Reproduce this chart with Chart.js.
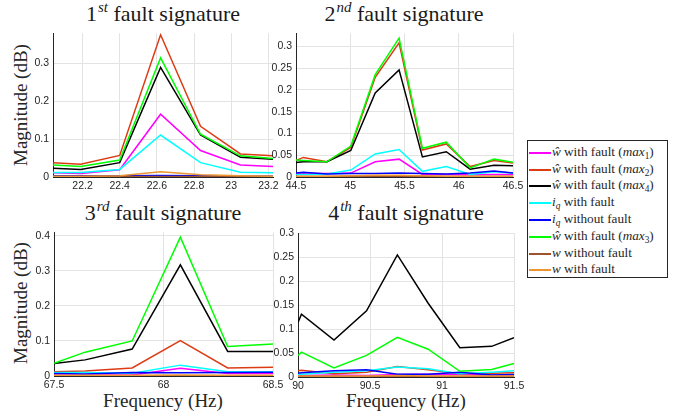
<!DOCTYPE html>
<html><head><meta charset="utf-8">
<script src="https://cdn.jsdelivr.net/npm/chart.js@4.4.0/dist/chart.umd.min.js"></script>
<style>
html,body{margin:0;padding:0;background:#fff;}
body{width:681px;height:418px;overflow:hidden;position:relative;font-family:"Liberation Serif",serif;color:#262626;}
canvas{position:absolute;}
.title{position:absolute;font-size:22px;line-height:1;white-space:nowrap;transform:translateX(-50%);color:#1a1a1a;}
.title .sup{font-style:italic;font-size:15px;position:relative;top:-9px;margin-left:1px;}
.xlab{position:absolute;font-size:19px;line-height:1;white-space:nowrap;transform:translateX(-50%);}
.ylab{position:absolute;font-size:19px;line-height:1;white-space:nowrap;transform:translate(-50%,-50%) rotate(-90deg);}
#legend{position:absolute;left:527px;top:140px;width:141px;height:138px;border:1px solid #262626;box-sizing:border-box;background:#fff;}
.lrow{position:absolute;left:0;height:16px;width:139px;font-size:13.2px;line-height:16px;white-space:nowrap;}
.lrow .ln{position:absolute;left:1px;top:8px;width:22px;height:2px;}
.lrow .tx{position:absolute;left:24px;top:0;}
.lrow sub{font-size:9.3px;vertical-align:-3px;line-height:0;}
</style>
</head><body>

<div class="title" style="left:163px;top:3px">1<span class="sup">st</span> fault signature</div>
<div class="title" style="left:404px;top:3px">2<span class="sup">nd</span> fault signature</div>
<div class="title" style="left:163px;top:202px">3<span class="sup">rd</span> fault signature</div>
<div class="title" style="left:406px;top:202px">4<span class="sup">th</span> fault signature</div>
<div class="ylab" style="left:20px;top:105px">Magnitude (dB)</div>
<div class="ylab" style="left:20px;top:303px">Magnitude (dB)</div>
<div class="xlab" style="left:163px;top:391px">Frequency (Hz)</div>
<div class="xlab" style="left:406px;top:391px">Frequency (Hz)</div>

<canvas id="c1"></canvas>
<canvas id="c2"></canvas>
<canvas id="c3"></canvas>
<canvas id="c4"></canvas>
<div id="legend"></div>

<script>
// ---- series labels and colours (legend order = plot order) ----
const seriesLabels = [
  '<i>ŵ</i> with fault (<i>max</i><sub>1</sub>)',
  '<i>ŵ</i> with fault (<i>max</i><sub>2</sub>)',
  '<i>ŵ</i> with fault (<i>max</i><sub>4</sub>)',
  '<i>i</i><sub><i>q</i></sub> with fault',
  '<i>i</i><sub><i>q</i></sub> without fault',
  '<i>ŵ</i> with fault (<i>max</i><sub>3</sub>)',
  '<i>w</i> without fault',
  '<i>w</i> with fault'
];
const seriesColors = ['#FF00FF','#DC3C14','#000000','#00FFFF','#0000FF','#00FF00','#A0522D','#EB9632'];

// ---- 1st fault signature ----
const f1       = [22.041, 22.19, 22.40, 22.62, 22.835, 23.05, 23.225];
const f1_max1  = [0.011, 0.009, 0.019, 0.166, 0.070, 0.032, 0.028];
const f1_max2  = [0.038, 0.034, 0.057, 0.376, 0.134, 0.061, 0.056];
const f1_max4  = [0.023, 0.020, 0.038, 0.290, 0.111, 0.052, 0.047];
const f1_iqF   = [0.012, 0.012, 0.020, 0.111, 0.038, 0.0125, 0.011];
const f1_iqNF  = [0.003, 0.003, 0.003, 0.004, 0.003, 0.002, 0.002];
const f1_max3  = [0.032, 0.028, 0.045, 0.315, 0.113, 0.056, 0.049];
const f1_wNF   = [0.001, 0.001, 0.001, 0.001, 0.001, 0.001, 0.001];
const f1_wF    = [0.002, 0.002, 0.003, 0.014, 0.006, 0.003, 0.002];
const xTicks1  = [22.2, 22.4, 22.6, 22.8, 23, 23.2];
const yTicks1  = [0, 0.1, 0.2, 0.3];

// ---- 2nd fault signature ----
const f2       = [44.5, 44.567, 44.785, 45.005, 45.23, 45.45, 45.665, 45.885, 46.105, 46.325, 46.5];
const f2_max1  = [0.007, 0.008, 0.008, 0.009, 0.035, 0.041, 0.006, 0.006, 0.005, 0.006, 0.006];
const f2_max2  = [0.038, 0.045, 0.035, 0.068, 0.229, 0.308, 0.062, 0.076, 0.024, 0.038, 0.032];
const f2_max4  = [0.033, 0.035, 0.035, 0.061, 0.193, 0.246, 0.046, 0.058, 0.018, 0.027, 0.026];
const f2_iqF   = [0.006, 0.006, 0.007, 0.016, 0.053, 0.063, 0.013, 0.024, 0.006, 0.012, 0.009];
const f2_iqNF  = [0.009, 0.011, 0.007, 0.008, 0.008, 0.009, 0.008, 0.007, 0.009, 0.014, 0.009];
const f2_max3  = [0.039, 0.038, 0.035, 0.071, 0.235, 0.319, 0.066, 0.080, 0.021, 0.041, 0.034];
const f2_wNF   = [0.001, 0.001, 0.001, 0.001, 0.001, 0.001, 0.001, 0.001, 0.001, 0.001, 0.001];
const f2_wF    = [0.002, 0.002, 0.002, 0.003, 0.004, 0.004, 0.003, 0.002, 0.002, 0.002, 0.002];
const xTicks2  = [44.5, 45, 45.5, 46, 46.5];
const yTicks2  = [0, 0.05, 0.1, 0.15, 0.2, 0.25, 0.3];

// ---- 3rd fault signature ----
const f3       = [67.5, 67.642, 67.857, 68.077, 68.293, 68.5];
const f3_max1  = [0.003, 0.003, 0.003, 0.022, 0.007, 0.007];
const f3_max2  = [0.012, 0.014, 0.023, 0.101, 0.023, 0.025];
const f3_max4  = [0.036, 0.046, 0.077, 0.317, 0.070, 0.070];
const f3_iqF   = [0.010, 0.010, 0.008, 0.031, 0.012, 0.012];
const f3_iqNF  = [0.007, 0.006, 0.010, 0.009, 0.010, 0.011];
const f3_max3  = [0.036, 0.068, 0.100, 0.396, 0.084, 0.091];
const f3_wNF   = [0.001, 0.001, 0.001, 0.001, 0.001, 0.001];
const f3_wF    = [0.002, 0.002, 0.002, 0.003, 0.002, 0.002];
const xTicks3  = [67.5, 68, 68.5];
const yTicks3  = [0, 0.1, 0.2, 0.3, 0.4];

// ---- 4th fault signature ----
const f4       = [90, 90.024, 90.25, 90.476, 90.69, 90.904, 91.124, 91.345, 91.5];
const f4_max1  = [0.003, 0.003, 0.004, 0.003, 0.005, 0.006, 0.005, 0.004, 0.004];
const f4_max2  = [0.013, 0.014, 0.007, 0.010, 0.022, 0.015, 0.007, 0.008, 0.009];
const f4_max4  = [0.114, 0.131, 0.077, 0.138, 0.255, 0.154, 0.061, 0.064, 0.082];
const f4_iqF   = [0.006, 0.006, 0.010, 0.013, 0.021, 0.017, 0.007, 0.010, 0.013];
const f4_iqNF  = [0.008, 0.009, 0.013, 0.015, 0.006, 0.006, 0.010, 0.004, 0.005];
const f4_max3  = [0.045, 0.052, 0.019, 0.045, 0.083, 0.058, 0.012, 0.0155, 0.028];
const f4_wNF   = [0.001, 0.001, 0.001, 0.001, 0.001, 0.001, 0.001, 0.001, 0.001];
const f4_wF    = [0.002, 0.002, 0.002, 0.002, 0.003, 0.002, 0.002, 0.002, 0.002];
const xTicks4  = [90, 90.5, 91, 91.5];
const yTicks4  = [0, 0.05, 0.1, 0.15, 0.2, 0.25, 0.3];

// ---- legend ----
const leg = document.getElementById('legend');
seriesLabels.forEach((lab, i) => {
  const r = document.createElement('div');
  r.className = 'lrow';
  r.style.top = (2.7 + i * 16.8) + 'px';
  r.innerHTML = '<span class="ln" style="background:' + seriesColors[i] + '"></span><span class="tx">' + lab + '</span>';
  leg.appendChild(r);
});

// ---- charts ----
const PADL = 45, PADT = 10, PADR = 15, PADB = 22;
function fmt(v){ return String(Math.round(v * 1000) / 1000); }

function makeChart(id, area, freqs, series, xr, yr, xt, yt) {
  const cv = document.getElementById(id);
  const w = area.w + PADL + PADR, h = area.h + PADT + PADB;
  cv.width = w; cv.height = h;
  cv.style.width = w + 'px'; cv.style.height = h + 'px';
  cv.style.left = (area.l - PADL) + 'px'; cv.style.top = (area.t - PADT) + 'px';
  const datasets = series.map((vals, i) => ({
    label: 's' + i,
    data: vals.map((v, k) => ({x: freqs[k], y: v})),
    borderColor: seriesColors[i],
    backgroundColor: seriesColors[i],
    borderWidth: 1.5,
    pointRadius: 0,
    tension: 0,
    fill: false,
    order: series.length - i
  }));
  const tickFont = {family: '"Liberation Sans", Arial, sans-serif', size: 10.5};
  new Chart(cv, {
    type: 'line',
    data: {datasets},
    options: {
      responsive: false, animation: false, devicePixelRatio: 1,
      layout: {padding: {left: 0, top: PADT, right: PADR, bottom: 0}},
      plugins: {legend: {display: false}, tooltip: {enabled: false}, title: {display: false}},
      scales: {
        x: {
          type: 'linear', min: xr[0], max: xr[1],
          afterBuildTicks: s => { s.ticks = xt.map(v => ({value: v})); },
          afterFit: s => { s.height = PADB; },
          ticks: {callback: v => fmt(v), color: '#262626', font: tickFont, padding: 3, maxRotation: 0, autoSkip: false},
          grid: {color: '#e3e3e3', lineWidth: 1, drawTicks: false},
          border: {display: true, color: '#262626', width: 1}
        },
        y: {
          type: 'linear', min: yr[0], max: yr[1],
          afterBuildTicks: s => { s.ticks = yt.map(v => ({value: v})); },
          afterFit: s => { s.width = PADL; },
          ticks: {callback: v => fmt(v), color: '#262626', font: tickFont, padding: 4, autoSkip: false},
          grid: {color: '#e3e3e3', lineWidth: 1, drawTicks: false},
          border: {display: true, color: '#262626', width: 1}
        }
      }
    }
  });
}

makeChart('c1', {l: 53, t: 33, w: 220, h: 144}, f1,
  [f1_max1, f1_max2, f1_max4, f1_iqF, f1_iqNF, f1_max3, f1_wNF, f1_wF],
  [22.041, 23.225], [0, 0.38], xTicks1, yTicks1);
makeChart('c2', {l: 296, t: 33, w: 217, h: 144}, f2,
  [f2_max1, f2_max2, f2_max4, f2_iqF, f2_iqNF, f2_max3, f2_wNF, f2_wF],
  [44.5, 46.5], [0, 0.33], xTicks2, yTicks2);
makeChart('c3', {l: 54, t: 232, w: 219, h: 144}, f3,
  [f3_max1, f3_max2, f3_max4, f3_iqF, f3_iqNF, f3_max3, f3_wNF, f3_wF],
  [67.5, 68.5], [0, 0.41], xTicks3, yTicks3);
makeChart('c4', {l: 298, t: 233, w: 216, h: 144}, f4,
  [f4_max1, f4_max2, f4_max4, f4_iqF, f4_iqNF, f4_max3, f4_wNF, f4_wF],
  [90, 91.5], [0, 0.3], xTicks4, yTicks4);
</script>
</body></html>
